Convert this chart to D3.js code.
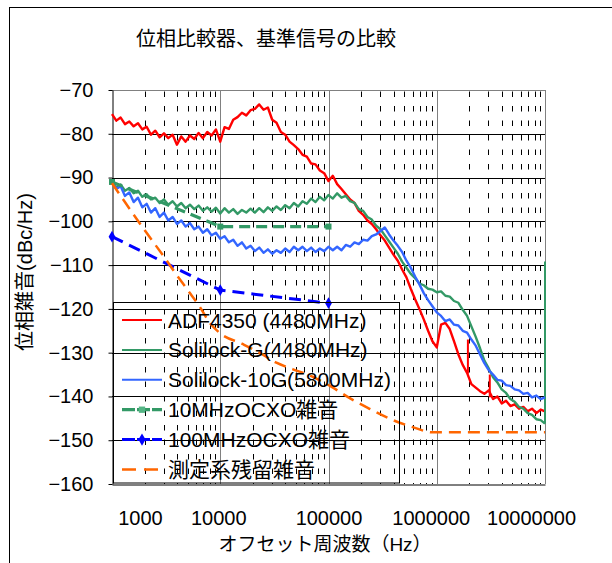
<!DOCTYPE html>
<html>
<head>
<meta charset="utf-8">
<script src="https://cdn.jsdelivr.net/npm/d3@7"></script>
<style>
  body { margin: 0; background: #fff; }
  svg { display: block; }
  text { font-family: "Liberation Sans", Arial, "Noto Sans CJK JP", sans-serif; fill: #000; }
</style>
</head>
<body>
<svg id="chart" width="612" height="563"></svg>
<script>
// ---- data ----
const freqs = [
  1000,1096,1202,1318,1445,1585,1738,1905,2089,2291,
  2512,2754,3020,3311,3631,3981,4365,4786,5248,5754,
  6310,6918,7586,8318,9120,
  10000,10960,12020,13180,14450,15850,17380,19050,20890,22910,
  25120,27540,30200,33110,36310,39810,43650,47860,52480,57540,
  63100,69180,75860,83180,91200,
  100000,109600,120200,131800,144500,158500,173800,190500,208900,229100,
  251200,275400,302000,331100,363100,398100,436500,478600,524800,575400,
  631000,691800,758600,831800,912000,
  1000000,1096000,1202000,1318000,1445000,1585000,1738000,1905000,2089000,2291000,
  2512000,2754000,3020000,3311000,3631000,3981000,4365000,4786000,5248000,5754000,
  6310000,6918000,7586000,8318000,9120000,
  10000000
]

const adf4350 = [
  -75.5,-77.0,-76.3,-77.8,-77.2,-78.3,-77.6,-79.0,-78.4,-80.2,
  -79.3,-80.8,-79.9,-81.0,-80.2,-82.5,-80.6,-81.8,-80.4,-81.2,
  -79.8,-81.0,-79.6,-80.4,-79.0,-81.8,-78.5,-78.9,-76.8,-76.2,
  -75.2,-75.8,-74.6,-74.3,-73.3,-74.5,-74.0,-76.8,-77.5,-79.6,
  -80.2,-81.8,-82.6,-83.5,-84.8,-85.2,-86.8,-87.0,-88.4,-89.0,
  -90.8,-89.6,-91.5,-92.6,-93.8,-95.0,-95.8,-97.6,-98.5,-99.8,
  -100.6,-101.8,-103.2,-104.4,-106.0,-107.6,-109.0,-111.0,-112.8,-115.4,
  -117.8,-120.0,-122.4,-125.0,-127.4,-128.8,-123.6,-123.2,-124.6,-127.4,
  -130.4,-132.8,-134.6,-137.2,-138.0,-138.8,-139.4,-138.6,-140.6,-140.0,
  -141.6,-141.0,-142.2,-141.8,-142.8,-142.4,-143.4,-142.8,-143.8,-143.0,
  -143.4
]

const solilockG = [
  -91.0,-92.2,-91.6,-93.0,-92.4,-93.6,-93.0,-94.4,-93.8,-95.0,
  -94.6,-95.8,-95.0,-96.2,-95.4,-96.6,-95.8,-97.0,-96.2,-97.2,
  -96.4,-97.6,-96.8,-97.8,-96.9,-98.2,-97.0,-98.0,-97.2,-98.3,
  -97.4,-98.0,-97.1,-98.0,-97.0,-97.9,-96.8,-97.6,-96.6,-97.4,
  -96.3,-97.0,-95.8,-96.6,-95.4,-96.0,-94.8,-95.6,-94.4,-95.2,
  -94.0,-94.8,-93.6,-94.6,-94.2,-95.4,-95.8,-97.2,-97.6,-99.0,
  -99.6,-101.0,-101.8,-103.2,-104.6,-106.0,-107.4,-109.2,-110.6,-112.0,
  -113.0,-114.2,-114.6,-115.4,-115.6,-116.2,-116.0,-117.0,-117.2,-118.2,
  -118.6,-120.2,-121.6,-124.0,-126.4,-129.0,-131.8,-133.6,-135.6,-136.8,
  -138.4,-139.2,-140.6,-141.2,-142.4,-142.8,-143.8,-144.2,-145.2,-145.4,
  -146.2
]

const solilock10G = [
  -90.8,-92.6,-92.0,-94.2,-93.4,-95.6,-94.6,-96.8,-96.0,-98.0,
  -97.0,-99.0,-98.0,-99.8,-99.0,-100.6,-99.8,-101.2,-100.4,-101.8,
  -101.2,-102.6,-101.8,-103.2,-102.6,-104.0,-103.4,-104.8,-104.2,-105.6,
  -104.8,-106.2,-105.6,-106.8,-106.0,-107.2,-106.4,-107.4,-106.6,-107.2,
  -106.2,-107.0,-105.8,-106.6,-105.8,-106.8,-106.0,-107.0,-106.2,-106.8,
  -105.8,-106.6,-105.8,-106.6,-105.4,-105.8,-104.8,-105.2,-104.2,-104.4,
  -103.4,-103.0,-102.2,-101.4,-103.0,-104.4,-105.6,-107.0,-109.0,-110.6,
  -112.6,-114.4,-116.4,-118.0,-119.4,-120.8,-121.6,-122.8,-122.4,-123.6,
  -123.8,-125.0,-125.4,-127.0,-128.4,-130.4,-132.4,-134.0,-135.0,-136.2,
  -136.4,-137.4,-137.6,-138.4,-138.6,-139.4,-139.2,-140.2,-139.8,-140.6,
  -140.2
]

// vertical jumps in the traces: [freq, from dB, to dB]
const adfSpikes = [[1940000, -134.8, -127.0], [3090000, -140.2, -135.0], [10000000, -143.4, -123.0]]
const solilockGSpikes = [[10000000, -146.2, -109.2]]

const ocxo10 = [[1000, -91.0], [10000, -101.2], [100000, -101.2]]
const ocxo100 = [[1000, -103.5], [10000, -115.7], [100000, -118.7]]
const residual = [
  [1000, -91.3], [2000, -102.0], [3000, -108.0], [4000, -112.4], [5000, -115.7],
  [6500, -119.6], [8000, -123.2], [10000, -125.6], [16000, -128.0], [23000, -130.0],
  [33000, -132.3], [47000, -133.8], [67000, -135.2], [110000, -138.0], [160000, -140.5],
  [226000, -142.5], [393000, -145.4], [600000, -147.0], [920000, -148.2], [2000000, -148.2],
  [10000000, -148.2]
]

const seriesNames = ['ADF4350 (4480MHz)', 'Solilock-G(4480MHz)', 'Solilock-10G(5800MHz)', '10MHzOCXO雑音', '100MHzOCXO雑音', '測定系残留雑音']
const xTicks = [1000, 10000, 100000, 1000000, 10000000]
const yTicks = [-160, -150, -140, -130, -120, -110, -100, -90, -80, -70]

const chartTitle = '位相比較器、基準信号の比較'
const xTitle = 'オフセット周波数（Hz）'
const yTitle = '位相雑音(dBc/Hz)'

// ---- layout ----
const plot = { left: 112, right: 545, top: 90, bottom: 484 }

const svg = d3.select('#chart')

// chart area border
svg.append('rect')
  .attr('x', 9.5).attr('y', 7.5)
  .attr('width', 700).attr('height', 700)
  .attr('fill', '#fff').attr('stroke', '#000')

svg.append('text')
  .attr('x', 266).attr('y', 46)
  .attr('text-anchor', 'middle')
  .style('font-size', '20px')
  .text(chartTitle)

const x = d3.scaleLog().domain([1e3, 1e7]).range([plot.left, plot.right])
const y = d3.scaleLinear().domain([-160, -70]).range([plot.bottom, plot.top])
const crisp = v => Math.round(v) + 0.5

// minor vertical gridlines (dashed)
const minor = x.ticks().filter(v => !xTicks.includes(v))
svg.append('g')
  .selectAll('line')
  .data(minor)
  .enter()
  .append('line')
  .attr('x1', d => crisp(x(d))).attr('x2', d => crisp(x(d)))
  .attr('y1', plot.top + 1.5).attr('y2', plot.bottom)
  .attr('stroke', '#000')
  .attr('stroke-width', 1)
  .attr('stroke-dasharray', '5.5,9')

// decade gridlines
svg.append('g')
  .selectAll('line')
  .data(xTicks.slice(1))
  .enter()
  .append('line')
  .attr('x1', d => crisp(x(d))).attr('x2', d => crisp(x(d)))
  .attr('y1', plot.top).attr('y2', plot.bottom)
  .attr('stroke', '#808080')

// horizontal gridlines
svg.append('g')
  .selectAll('line')
  .data(yTicks.slice(1))
  .enter()
  .append('line')
  .attr('x1', plot.left).attr('x2', plot.right)
  .attr('y1', d => crisp(y(d))).attr('y2', d => crisp(y(d)))
  .attr('stroke', d => d === -70 ? '#808080' : '#000')

// axes
const yAxis = svg.append('g')
  .attr('transform', `translate(${plot.left + 0.5},0)`)
  .call(d3.axisLeft(y).tickValues(yTicks).tickSize(4).tickSizeOuter(0).tickPadding(15)
    .tickFormat(d => '−' + Math.abs(d)))
yAxis.select('.domain').attr('stroke', '#000')
yAxis.selectAll('text').style('font-size', '20px').attr('font-family', null)

const xAxis = svg.append('g')
  .attr('transform', `translate(0,${crisp(plot.bottom)})`)
  .call(d3.axisBottom(x).tickValues(xTicks).tickSize(0).tickSizeOuter(0).tickPadding(26)
    .tickFormat(d3.format('d')))
xAxis.select('.domain').attr('stroke', '#000')
const labelShift = [28, -2, 0, -6, -14]
xAxis.selectAll('text').style('font-size', '20px').attr('font-family', null)
  .attr('dx', (d, i) => labelShift[i])

// right border
svg.append('line')
  .attr('x1', crisp(plot.right)).attr('x2', crisp(plot.right))
  .attr('y1', plot.top).attr('y2', plot.bottom)
  .attr('stroke', '#808080')

// axis titles
svg.append('text')
  .attr('x', 325).attr('y', 551)
  .attr('text-anchor', 'middle')
  .style('font-size', '19px')
  .text(xTitle)

svg.append('text')
  .attr('transform', 'translate(32,272) rotate(-90)')
  .attr('text-anchor', 'middle')
  .style('font-size', '20px')
  .text(yTitle)

// ---- series ----
const line = d3.line().x(d => x(d[0])).y(d => y(d[1]))
const zipF = vals => freqs.map((f, i) => [f, vals[i]])

const styles = [
  { color: '#ff0000', width: 2.4, dash: null },
  { color: '#339966', width: 2.4, dash: null },
  { color: '#3366ff', width: 2.4, dash: null },
  { color: '#339966', width: 3.2, dash: '11,6', marker: 'square' },
  { color: '#0000ff', width: 3, dash: '12,7', marker: 'diamond' },
  { color: '#ff6600', width: 2.5, dash: '12,7' }
]

const traces = [zipF(adf4350), zipF(solilockG), zipF(solilock10G), ocxo10, ocxo100, residual]
const spikes = [adfSpikes, solilockGSpikes, [], [], [], []]

const Plot = svg.append('g')

traces.forEach((pts, i) => {
  const s = styles[i]
  Plot.append('path')
    .datum(pts)
    .attr('d', i === 5 ? line.curve(d3.curveMonotoneX)(pts) : line.curve(d3.curveLinear)(pts))
    .attr('fill', 'none')
    .attr('stroke', s.color)
    .attr('stroke-width', s.width)
    .attr('stroke-linejoin', 'round')
    .attr('stroke-dasharray', s.dash)

  Plot.append('g')
    .selectAll('line')
    .data(spikes[i])
    .enter()
    .append('line')
    .attr('x1', d => Math.min(x(d[0]), plot.right)).attr('x2', d => Math.min(x(d[0]), plot.right))
    .attr('y1', d => y(d[1])).attr('y2', d => y(d[2]))
    .attr('stroke', s.color)
    .attr('stroke-width', 2)
    .attr('stroke-opacity', d => d[0] === 10000000 && i === 0 ? 0.35 : 1)

  if (s.marker) {
    const sym = d3.symbol().type(s.marker === 'square' ? d3.symbolSquare : d3.symbolDiamond).size(s.marker === 'square' ? 36 : 40)
    Plot.append('g')
      .selectAll('path')
      .data(pts)
      .enter()
      .append('path')
      .attr('transform', d => `translate(${x(d[0])},${y(d[1])})`)
      .attr('d', sym)
      .attr('fill', s.color)
  }
})

// ---- legend (no fill, plot shows through) ----
const Legend = svg.append('g')
Legend.append('rect')
  .attr('x', 113.5).attr('y', 302.5)
  .attr('width', 286).attr('height', 180.5)
  .attr('fill', 'none').attr('stroke', '#000')

seriesNames.forEach((name, i) => {
  const s = styles[i]
  const ry = 320 + i * 29.9
  Legend.append('line')
    .attr('x1', 122).attr('x2', 162)
    .attr('y1', ry).attr('y2', ry)
    .attr('stroke', s.color)
    .attr('stroke-width', s.dash ? s.width : 2)
    .attr('stroke-dasharray', i === 5 ? '14,8' : (s.dash ? '13,2' : null))
  if (s.marker) {
    const sym = d3.symbol().type(s.marker === 'square' ? d3.symbolSquare : d3.symbolDiamond).size(s.marker === 'square' ? 40 : 44)
    Legend.append('path')
      .attr('transform', `translate(142,${ry})`)
      .attr('d', sym)
      .attr('fill', s.marker === 'square' ? '#55b585' : s.color)
  }
  Legend.append('text')
    .attr('x', 168).attr('y', ry)
    .attr('dy', '0.36em')
    .style('font-size', '21px')
    .text(name)
})
</script>
</body>
</html>
